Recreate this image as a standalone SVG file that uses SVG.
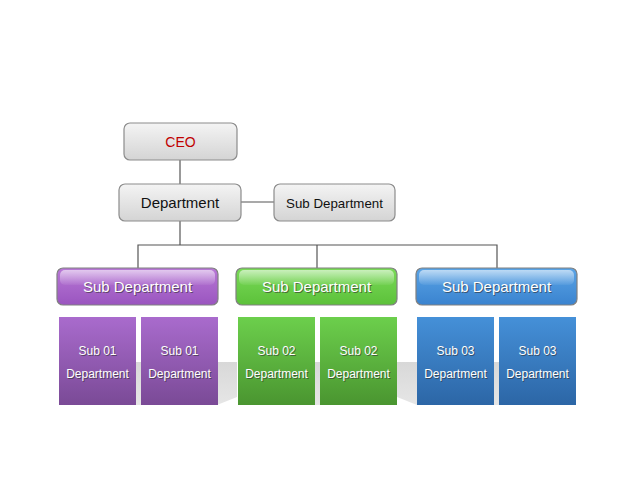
<svg xmlns="http://www.w3.org/2000/svg" width="635" height="484" viewBox="0 0 635 484">
<defs>
<linearGradient id="gGray" x1="0" y1="0" x2="0" y2="1"><stop offset="0" stop-color="#f4f4f4"/><stop offset="1" stop-color="#d4d4d4"/></linearGradient>
<linearGradient id="gPurH" x1="0" y1="0" x2="0" y2="1"><stop offset="0" stop-color="#b878d6"/><stop offset="1" stop-color="#9a55bf"/></linearGradient>
<linearGradient id="gGrnH" x1="0" y1="0" x2="0" y2="1"><stop offset="0" stop-color="#7ada58"/><stop offset="1" stop-color="#5cc13a"/></linearGradient>
<linearGradient id="gBluH" x1="0" y1="0" x2="0" y2="1"><stop offset="0" stop-color="#5aa4e6"/><stop offset="1" stop-color="#3a83cf"/></linearGradient>
<linearGradient id="gPur" x1="0" y1="0" x2="0" y2="1"><stop offset="0" stop-color="#a96bcd"/><stop offset="1" stop-color="#7a4a96"/></linearGradient>
<linearGradient id="gGrn" x1="0" y1="0" x2="0" y2="1"><stop offset="0" stop-color="#6ccf4c"/><stop offset="1" stop-color="#4a9530"/></linearGradient>
<linearGradient id="gBlu" x1="0" y1="0" x2="0" y2="1"><stop offset="0" stop-color="#4590d8"/><stop offset="1" stop-color="#2c66a6"/></linearGradient>
<linearGradient id="gGloss" x1="0" y1="0" x2="0" y2="1"><stop offset="0" stop-color="#ffffff" stop-opacity="0.6"/><stop offset="1" stop-color="#ffffff" stop-opacity="0.05"/></linearGradient>
<linearGradient id="gFold" x1="0" y1="0" x2="0" y2="1"><stop offset="0" stop-color="#d8d8d8"/><stop offset="1" stop-color="#e6e6e6"/></linearGradient>
</defs>
<style>
.gray{fill:url(#gGray);stroke:#8c8c8c;stroke-width:1.2}
.hdr{stroke:#808080;stroke-width:1.2}
.conn{stroke:#555;stroke-width:1.2;fill:none}
.t{font-family:"Liberation Sans",Arial,sans-serif;text-anchor:middle;fill:#111}
.w{font-family:"Liberation Sans",Arial,sans-serif;text-anchor:middle;fill:#fff}
.sh{font-family:"Liberation Sans",Arial,sans-serif;text-anchor:middle;fill:#333;opacity:0.6}
.fold{fill:url(#gFold)}
</style>
<g id="connectors">
<line class="conn" x1="180" y1="160" x2="180" y2="184"/>
<line class="conn" x1="241" y1="202" x2="274" y2="202"/>
<line class="conn" x1="180" y1="221" x2="180" y2="245"/>
<polyline class="conn" points="138,268 138,245 497,245 497,268"/>
<line class="conn" x1="317" y1="245" x2="317" y2="268"/>
</g>
<g id="folds">
<rect class="fold" x="135" y="362" width="7" height="43"/>
<rect class="fold" x="314" y="362" width="7" height="43"/>
<rect class="fold" x="493" y="362" width="7" height="43"/>
<polygon class="fold" points="217,362 237,362 237,397 217,405"/>
<polygon class="fold" points="397,362 417,362 417,405 397,397"/>
</g>
<g id="ceo">
<rect class="gray" x="124" y="123" width="113" height="37" rx="6"/>
<text class="t" x="180.5" y="147" font-size="14" fill="#c00000" style="fill:#c00000">CEO</text>
</g>
<g id="department">
<rect class="gray" x="119" y="184" width="122" height="37" rx="6"/>
<text class="t" x="180" y="208" font-size="15">Department</text>
</g>
<g id="subdept-top">
<rect class="gray" x="274" y="184" width="121" height="37" rx="6"/>
<text class="t" x="334.5" y="208" font-size="13.3">Sub Department</text>
</g>
<g id="hdr-purple">
<rect class="hdr" x="57" y="268" width="161" height="37" rx="6" fill="url(#gPurH)"/>
<rect x="60" y="270" width="155" height="15" rx="5" fill="url(#gGloss)"/>
<text class="sh" x="138.5" y="293" font-size="15">Sub Department</text>
<text class="w" x="137.5" y="292" font-size="15">Sub Department</text>
</g>
<g id="hdr-green">
<rect class="hdr" x="236" y="268" width="161" height="37" rx="6" fill="url(#gGrnH)"/>
<rect x="239" y="270" width="155" height="15" rx="5" fill="url(#gGloss)"/>
<text class="sh" x="317.5" y="293" font-size="15">Sub Department</text>
<text class="w" x="316.5" y="292" font-size="15">Sub Department</text>
</g>
<g id="hdr-blue">
<rect class="hdr" x="416" y="268" width="161" height="37" rx="6" fill="url(#gBluH)"/>
<rect x="419" y="270" width="155" height="15" rx="5" fill="url(#gGloss)"/>
<text class="sh" x="497.5" y="293" font-size="15">Sub Department</text>
<text class="w" x="496.5" y="292" font-size="15">Sub Department</text>
</g>
<g id="p1">
<rect x="59" y="317" width="77" height="88" fill="url(#gPur)"/>
<text class="sh" x="98.5" y="356" font-size="12">Sub 01</text><text class="w" x="97.5" y="355" font-size="12">Sub 01</text>
<text class="sh" x="98.5" y="379" font-size="12">Department</text><text class="w" x="97.5" y="378" font-size="12">Department</text>
</g>
<g id="p2">
<rect x="141" y="317" width="77" height="88" fill="url(#gPur)"/>
<text class="sh" x="180.5" y="356" font-size="12">Sub 01</text><text class="w" x="179.5" y="355" font-size="12">Sub 01</text>
<text class="sh" x="180.5" y="379" font-size="12">Department</text><text class="w" x="179.5" y="378" font-size="12">Department</text>
</g>
<g id="g1">
<rect x="238" y="317" width="77" height="88" fill="url(#gGrn)"/>
<text class="sh" x="277.5" y="356" font-size="12">Sub 02</text><text class="w" x="276.5" y="355" font-size="12">Sub 02</text>
<text class="sh" x="277.5" y="379" font-size="12">Department</text><text class="w" x="276.5" y="378" font-size="12">Department</text>
</g>
<g id="g2">
<rect x="320" y="317" width="77" height="88" fill="url(#gGrn)"/>
<text class="sh" x="359.5" y="356" font-size="12">Sub 02</text><text class="w" x="358.5" y="355" font-size="12">Sub 02</text>
<text class="sh" x="359.5" y="379" font-size="12">Department</text><text class="w" x="358.5" y="378" font-size="12">Department</text>
</g>
<g id="b1">
<rect x="417" y="317" width="77" height="88" fill="url(#gBlu)"/>
<text class="sh" x="456.5" y="356" font-size="12">Sub 03</text><text class="w" x="455.5" y="355" font-size="12">Sub 03</text>
<text class="sh" x="456.5" y="379" font-size="12">Department</text><text class="w" x="455.5" y="378" font-size="12">Department</text>
</g>
<g id="b2">
<rect x="499" y="317" width="77" height="88" fill="url(#gBlu)"/>
<text class="sh" x="538.5" y="356" font-size="12">Sub 03</text><text class="w" x="537.5" y="355" font-size="12">Sub 03</text>
<text class="sh" x="538.5" y="379" font-size="12">Department</text><text class="w" x="537.5" y="378" font-size="12">Department</text>
</g>
</svg>
